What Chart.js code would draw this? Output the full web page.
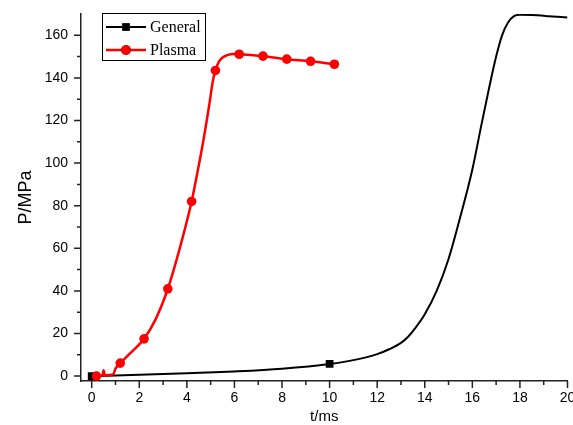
<!DOCTYPE html>
<html>
<head>
<meta charset="utf-8">
<script src="https://cdn.jsdelivr.net/npm/chart.js@4"></script>
<style>
    html, body { margin: 0; padding: 0; background: #fff; overflow: hidden; }
    #wrap { width: 573px; height: 425px; position: relative; }
</style>
</head>
<body>
<div id="wrap"><canvas id="pChart"></canvas></div>
<script>
// 軸の目盛
const xTicks = [0, 2, 4, 6, 8, 10, 12, 14, 16, 18, 20];
const yTicks = [0, 20, 40, 60, 80, 100, 120, 140, 160];

// General (黒)
const generalT = [0, 2, 4, 6, 8, 10, 11, 12, 12.5, 13, 13.3, 13.6, 14, 14.5, 15, 15.5, 16, 16.4, 16.7, 17, 17.25, 17.5, 17.75, 18, 18.5, 19.2, 20];
const generalP = [0, 0.6, 1.3, 2.2, 3.5, 5.7, 7.5, 10.3, 12.6, 15.6, 18.5, 22.5, 29, 40, 55, 75, 97, 119, 135, 150, 160, 166, 169, 169.6, 169.5, 169, 168.3];
const generalMarks = [0, 10];

// Plasma (赤)
const plasmaT = [0.2, 0.45, 0.5, 0.55, 0.9, 1.0, 1.2, 1.6, 2.2, 2.7, 3.2, 3.7, 4.2, 4.45, 4.7, 4.95, 5.1, 5.2, 5.35, 5.5, 5.7, 5.95, 6.2, 7.2, 8.2, 9.2, 10.2];
const plasmaP = [0, 0.3, 2.8, 0.4, 0.8, 3.5, 6.1, 10.5, 17.5, 27, 41, 60, 82, 96, 111, 128, 139, 143.5, 147.6, 149.6, 150.7, 151.2, 151.1, 150.2, 148.8, 147.8, 146.4];
const plasmaMarks = [0.2, 1.2, 2.2, 3.2, 4.2, 5.2, 6.2, 7.2, 8.2, 9.2, 10.2];

function toPoints(ts, ps) {
    return ts.map((t, i) => ({ x: t, y: ps[i] }));
}

// 目盛線を外向きに描く
const tickMarks = {
    id: 'tickMarks',
    afterDraw(chart) {
        const { ctx, scales: { x, y } } = chart;
        ctx.save();
        ctx.strokeStyle = '#222';
        ctx.lineWidth = 1.5;
        ctx.beginPath();
        x.ticks.forEach(t => {
            const px = x.getPixelForValue(t.value);
            const len = xTicks.includes(t.value) ? 7 : 4;
            ctx.moveTo(px, x.top);
            ctx.lineTo(px, x.top + len);
        });
        y.ticks.forEach(t => {
            const py = y.getPixelForValue(t.value);
            const len = yTicks.includes(t.value) ? 7 : 4;
            ctx.moveTo(y.right, py);
            ctx.lineTo(y.right - len, py);
        });
        ctx.stroke();
        ctx.restore();
    }
};

// 凡例ボックス
const boxLegend = {
    id: 'boxLegend',
    afterDraw(chart) {
        const ctx = chart.ctx;
        const items = chart.data.datasets.slice().sort((a, b) => b.order - a.order);
        ctx.save();
        ctx.fillStyle = '#fff';
        ctx.fillRect(102, 13, 104, 48);
        ctx.strokeStyle = '#000';
        ctx.lineWidth = 1;
        ctx.strokeRect(102.5, 13.5, 103, 47);
        items.forEach((ds, i) => {
            const cy = 27 + i * 23;
            ctx.strokeStyle = ds.borderColor;
            ctx.lineWidth = ds.borderWidth;
            ctx.beginPath();
            ctx.moveTo(106, cy);
            ctx.lineTo(146, cy);
            ctx.stroke();
            Chart.helpers.drawPoint(ctx, {
                pointStyle: ds.pointStyle,
                radius: ds.legendRadius,
                borderWidth: 0
            }, 126, cy);
            ctx.fillStyle = ds.borderColor;
            ctx.fill();
            ctx.fillStyle = '#000';
            ctx.font = '16px "Liberation Serif", "Times New Roman", serif';
            ctx.textBaseline = 'middle';
            ctx.fillText(ds.label, 150, cy + 1);
        });
        ctx.restore();
    }
};

document.addEventListener('DOMContentLoaded', function() {
    const ctx = document.getElementById('pChart');
    new Chart(ctx, {
        type: 'line',
        data: {
            datasets: [{
                label: 'General',
                data: toPoints(generalT, generalP),
                borderColor: '#000',
                backgroundColor: '#000',
                borderWidth: 2,
                pointStyle: 'rect',
                legendRadius: 5.5,
                pointRadius: c => generalMarks.includes(c.raw.x) ? 5.5 : 0,
                pointBorderWidth: 0,
                cubicInterpolationMode: 'monotone',
                order: 2
            }, {
                label: 'Plasma',
                data: toPoints(plasmaT, plasmaP),
                borderColor: '#ff0000',
                backgroundColor: '#ff0000',
                borderWidth: 2.5,
                pointStyle: 'circle',
                legendRadius: 4.8,
                pointRadius: c => plasmaMarks.includes(c.raw.x) ? 4.8 : 0,
                pointBorderWidth: 0,
                cubicInterpolationMode: 'monotone',
                order: 1
            }]
        },
        options: {
            responsive: true,
            maintainAspectRatio: false,
            animation: false,
            layout: { padding: { left: 0, top: 14, right: 5, bottom: 0 } },
            plugins: {
                legend: { display: false },
                tooltip: { enabled: false }
            },
            scales: {
                x: {
                    type: 'linear',
                    min: -0.45,
                    max: 20,
                    afterBuildTicks: s => {
                        const t = [];
                        xTicks.forEach((v, i) => {
                            t.push({ value: v });
                            if (i < xTicks.length - 1) t.push({ value: (v + xTicks[i + 1]) / 2 });
                        });
                        s.ticks = t;
                    },
                    afterFit: s => { s.height = 44; s.paddingLeft = 0; s.paddingRight = 0; },
                    grid: { display: false, drawTicks: true, tickLength: 7 },
                    border: { display: true, color: '#222', width: 1.5 },
                    ticks: {
                        autoSkip: false,
                        maxRotation: 0,
                        padding: 2,
                        color: '#000',
                        font: { family: 'Liberation Sans, Arial', size: 14 },
                        callback: v => xTicks.includes(v) ? String(v) : ''
                    },
                    title: {
                        display: true,
                        text: 't/ms',
                        color: '#000',
                        font: { family: 'Liberation Sans, Arial', size: 15 },
                        padding: { top: 0, bottom: -1 }
                    }
                },
                y: {
                    min: -2.3,
                    max: 170,
                    afterBuildTicks: s => {
                        const t = [];
                        yTicks.forEach((v, i) => {
                            t.push({ value: v });
                            if (i < yTicks.length - 1) t.push({ value: (v + yTicks[i + 1]) / 2 });
                        });
                        s.ticks = t;
                    },
                    afterFit: s => { s.width = 81; s.paddingTop = 0; s.paddingBottom = 0; },
                    grid: { display: false, drawTicks: true, tickLength: 7 },
                    border: { display: true, color: '#222', width: 1.5 },
                    ticks: {
                        autoSkip: false,
                        padding: 6,
                        color: '#000',
                        font: { family: 'Liberation Sans, Arial', size: 14 },
                        callback: v => yTicks.includes(v) ? String(v) : ''
                    },
                    title: {
                        display: true,
                        text: 'P/MPa',
                        color: '#000',
                        font: { family: 'Liberation Sans, Arial', size: 18 },
                        padding: { top: 15, bottom: 0 }
                    }
                }
            }
        },
        plugins: [tickMarks, boxLegend]
    });
});
</script>
</body>
</html>
